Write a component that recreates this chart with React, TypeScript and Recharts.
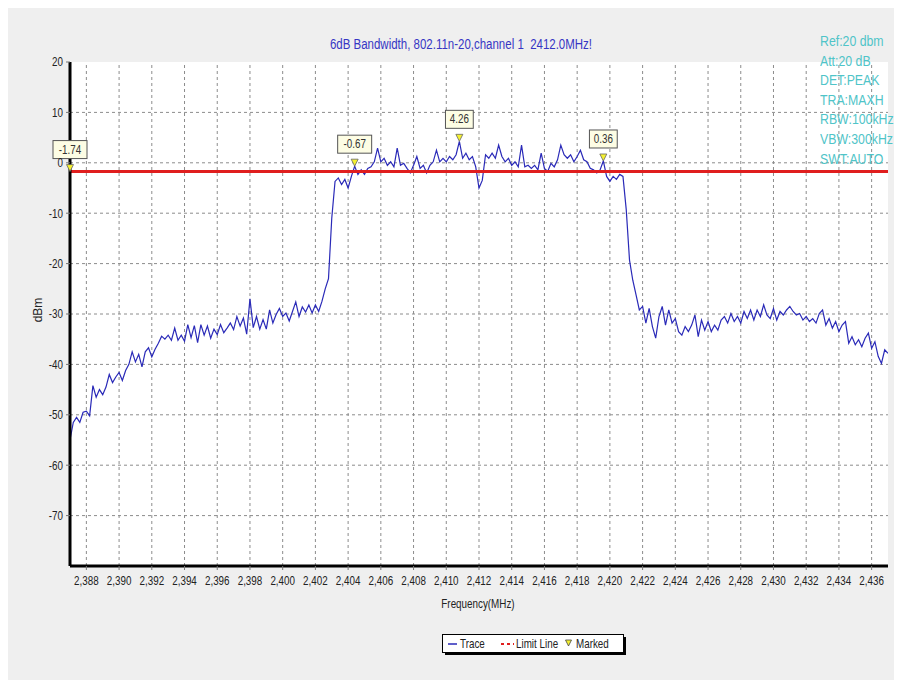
import {
  CartesianGrid,
  ComposedChart,
  Line,
  ReferenceDot,
  ReferenceLine,
  XAxis,
  YAxis,
} from "recharts";

// sweep: 2387 MHz .. 2437 MHz, one reading every 0.2 MHz
const sweepStart = 2387;
const sweepStep = 0.2;

// trace levels (dBm), five per MHz
const traceLevels = [
  -55, -51.5, -50.5, -51.5, -49.5,
  -49.3, -50.2, -44.2, -46.5, -45,
  -46, -44.5, -42, -43.6, -42.5,
  -41.6, -43.2, -41.2, -40, -37.5,
  -39.5, -38, -40.5, -37.5, -36.7,
  -38.5, -37, -35.8, -34.4, -35,
  -34.2, -35.2, -32.8, -35.2, -34.2,
  -35.4, -32.1, -34.7, -32.3, -35.7,
  -32.1, -34.2, -32.4, -34.8, -33,
  -34.1, -32.1, -33.7, -32.8, -31.8,
  -33.1, -30.5, -32.4, -30.8, -34,
  -27, -32.7, -30.5, -33, -31.1,
  -33, -29.2, -31.8, -30.1, -28.9,
  -30.5, -29.8, -31.4, -29.5, -27.6,
  -30.5, -28.6, -29.6, -28.2, -29.8,
  -28.2, -29.5, -27.5, -25, -23,
  -11, -3.7, -3.0, -4.3, -3.3,
  -5.0, -2.7, -0.67, -2.3, -1.4,
  -2.3, -1.1, -0.8, 0.2, 2.9,
  0.2, 0.9, -0.5, 0.2, -0.8,
  2.9, -0.5, -0.1, -1.1, -2.0,
  -0.5, 1.25, -1.1, -0.5, -2.0,
  -0.5, 0.2, 2.5, 0.2, 0.9,
  0.2, 1.25, 0.6, 1.6, 4.26,
  0.9, 1.9, 0.6, 1.25, -0.8,
  -5.0, -3.5, 1.6, 0.9, 1.9,
  0.9, 3.5, 1.25, 0.2, 0.9,
  -0.5, 0.2, -0.8, 3.5, -0.8,
  -0.5, -1.1, -0.5, -1.4, 1.9,
  -1.1, -1.7, -0.1, -0.8, 0.6,
  3.5, 1.6, 0.9, 1.6, 0.2,
  1.25, 2.5, 0.6, 0.2, -1.1,
  -1.4, -2.0, -1.4, 0.36, -2.7,
  -3.7, -2.7, -3.3, -2.3, -2.7,
  -9.3, -19.3, -23.3, -26.2, -29.2,
  -28.5, -31.8, -28.9, -32.5, -34.8,
  -30.5, -28.5, -32.2, -29.2, -31.8,
  -30.9, -33.5, -34.2, -32.5, -33.5,
  -32.2, -30.2, -34.5, -31.2, -33.2,
  -31.5, -33.5, -32.2, -33.2, -31.2,
  -30.5, -31.8, -29.9, -31.5, -30.5,
  -31.8, -29.5, -30.9, -29.2, -31.2,
  -29.2, -30.5, -28.2, -30.2, -30.9,
  -28.9, -31.2, -29.5, -30.2, -29.2,
  -28.5, -29.5, -30.2, -29.9, -31.2,
  -30.5, -31.5, -30.9, -31.8, -29.9,
  -29.2, -32.2, -30.9, -32.8, -31.5,
  -33.5, -32.2, -31.5, -35.8, -34.5,
  -36.1, -35.1, -36.5, -34.8, -33.8,
  -36.8, -35.5, -38.4, -39.8, -37.1,
  -37.8,
];

const limitLevel = -1.74;

const markerFreqs = [2387, 2404.4, 2410.8, 2419.6];
const markerLevels = [-1.74, -0.67, 4.26, 0.36];

const freqTicks = [
  2388, 2390, 2392, 2394, 2396, 2398, 2400, 2402, 2404, 2406, 2408, 2410, 2412,
  2414, 2416, 2418, 2420, 2422, 2424, 2426, 2428, 2430, 2432, 2434, 2436,
];
const levelTicks = [20, 10, 0, -10, -20, -30, -40, -50, -60, -70];
const gridLevels = [10, 0, -10, -20, -30, -40, -50, -60, -70];

const title = "6dB Bandwidth, 802.11n-20,channel 1  2412.0MHz!";
const infoLines = [
  "Ref:20 dbm",
  "Att:20 dB",
  "DET:PEAK",
  "TRA:MAXH",
  "RBW:100kHz",
  "VBW:300kHz",
  "SWT:AUTO",
];

const trace = traceLevels.map((level, i) => ({
  freq: +(sweepStart + i * sweepStep).toFixed(1),
  level,
}));
const minorTicks = Array.from({ length: 126 }, (_, i) => +(sweepStart + i * 0.4).toFixed(1));

// no narrow face installed: squeeze Liberation Sans horizontally instead
const FONT = "'Liberation Sans', Arial, sans-serif";
const SQ = 0.82;
const W = 886;
const H = 672;
const gridStroke = { stroke: "#8c8c8c", strokeDasharray: "3 3", strokeWidth: 1 };

function NarrowText({ x, y, anchor, size = 12, fill = "#222", dy, children }: any) {
  return (
    <g transform={`translate(${x},${y})`}>
      <text
        transform={`scale(${SQ},1)`}
        textAnchor={anchor}
        dy={dy}
        fontSize={size}
        fontFamily={FONT}
        fill={fill}
      >
        {children}
      </text>
    </g>
  );
}

const XTick = ({ x, y, payload }: any) => (
  <NarrowText x={x} y={y} anchor="middle" dy="0.71em">
    {Number(payload.value).toLocaleString("en-US")}
  </NarrowText>
);

const YTick = ({ x, y, payload }: any) => (
  <NarrowText x={x} y={y} anchor="end" dy="0.36em">
    {payload.value}
  </NarrowText>
);

function MarkerGlyph({ cx, cy, text }: { cx: number; cy: number; text: string }) {
  const w = text.length * 6.2 + 3;
  return (
    <g>
      <rect x={cx - w / 2} y={cy - 31} width={w} height={18} fill="#fdfde4" stroke="#555" strokeWidth={1} />
      <NarrowText x={cx} y={cy - 18} anchor="middle" fill="#333">
        {text}
      </NarrowText>
      <path
        d={`M${cx - 3.5},${cy - 7} L${cx + 3.5},${cy - 7} L${cx},${cy} Z`}
        fill="#f4f030"
        stroke="#666"
        strokeWidth={0.8}
      />
    </g>
  );
}

const squeeze = (origin: string) => ({
  transform: `scaleX(${SQ})`,
  transformOrigin: origin,
  whiteSpace: "pre" as const,
});

export default function App() {
  return (
    <div style={{ position: "relative", width: W, height: H, background: "#efefef", fontFamily: FONT }}>
      <ComposedChart
        width={W}
        height={H}
        data={trace}
        margin={{ top: 54, right: 6, left: 12, bottom: 84 }}
      >
        {/* white plot background only; dashed grid is drawn at the labelled ticks below */}
        <CartesianGrid fill="#ffffff" horizontal={false} vertical={false} />
        <XAxis
          xAxisId="minor"
          dataKey="freq"
          type="number"
          domain={[2387, 2437]}
          ticks={minorTicks}
          height={0}
          axisLine={false}
          tick={false}
          tickSize={3}
          tickLine={{ stroke: "#777" }}
          allowDataOverflow
        />
        <XAxis
          dataKey="freq"
          type="number"
          domain={[2387, 2437]}
          ticks={freqTicks}
          interval={0}
          height={30}
          tickSize={4}
          tickMargin={6}
          axisLine={{ stroke: "#000", strokeWidth: 3 }}
          tickLine={{ stroke: "#777" }}
          tick={<XTick />}
          allowDataOverflow
        />
        <YAxis
          type="number"
          domain={[-80, 20]}
          ticks={levelTicks}
          interval={0}
          width={50}
          tickSize={4}
          tickMargin={3}
          axisLine={{ stroke: "#000", strokeWidth: 3 }}
          tickLine={{ stroke: "#777" }}
          tick={<YTick />}
          allowDataOverflow
        />
        {freqTicks.map((f) => (
          <ReferenceLine key={`v${f}`} x={f} {...gridStroke} />
        ))}
        {gridLevels.map((v) => (
          <ReferenceLine key={`h${v}`} y={v} {...gridStroke} />
        ))}
        <Line
          dataKey="level"
          type="linear"
          stroke="#2a2ab8"
          strokeWidth={1.2}
          dot={false}
          isAnimationActive={false}
        />
        <ReferenceLine y={limitLevel} stroke="#e01e1e" strokeWidth={3} />
        {markerFreqs.map((f, i) => (
          <ReferenceDot
            key={f}
            x={f}
            y={markerLevels[i]}
            ifOverflow="visible"
            shape={(p: any) => (
              <MarkerGlyph cx={p.cx} cy={p.cy} text={markerLevels[i].toFixed(2)} />
            )}
          />
        ))}
      </ComposedChart>

      <div
        style={{
          position: "absolute",
          left: 0,
          width: 906,
          top: 28,
          textAlign: "center",
          fontSize: 14,
          color: "#3636c4",
          ...squeeze("center"),
        }}
      >
        {title}
      </div>

      <div
        style={{
          position: "absolute",
          left: 812,
          top: 23,
          color: "#4fc4c8",
          fontSize: 15,
          lineHeight: "19.6px",
          ...squeeze("left"),
        }}
      >
        {infoLines.map((s) => (
          <div key={s}>{s}</div>
        ))}
      </div>

      <div
        style={{
          position: "absolute",
          left: 30,
          top: 302,
          transform: "translate(-50%, -50%) rotate(-90deg)",
          fontSize: 12,
          color: "#222",
        }}
      >
        dBm
      </div>

      <div
        style={{
          position: "absolute",
          left: 370,
          width: 200,
          top: 589,
          textAlign: "center",
          fontSize: 12,
          color: "#222",
          ...squeeze("center"),
        }}
      >
        Frequency(MHz)
      </div>

      <svg
        width={186}
        height={22}
        style={{ position: "absolute", left: 434, top: 626 }}
      >
        <rect x={3} y={3} width={181} height={18} fill="#000" />
        <rect x={0.5} y={0.5} width={181} height={18} fill="#fff" stroke="#000" />
        <line x1={6} y1={10} x2={15} y2={10} stroke="#2a2ab8" strokeWidth={1.5} />
        <NarrowText x={18} y={14} anchor="start">Trace</NarrowText>
        <line x1={59} y1={10} x2={72} y2={10} stroke="#e01e1e" strokeWidth={2} strokeDasharray="3 3" />
        <NarrowText x={74} y={14} anchor="start">Limit Line</NarrowText>
        <path d="M123.5,6 L129.5,6 L126.5,12 Z" fill="#f4f030" stroke="#444" strokeWidth={0.8} />
        <NarrowText x={134} y={14} anchor="start">Marked</NarrowText>
      </svg>
    </div>
  );
}
